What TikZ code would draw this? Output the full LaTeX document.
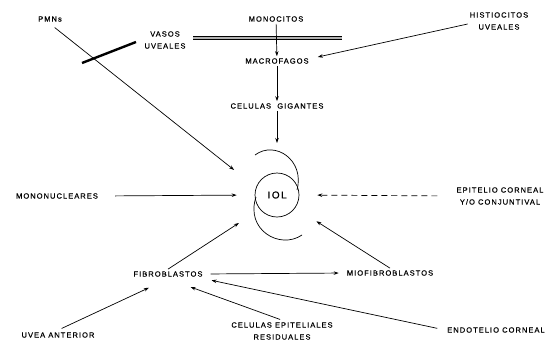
\documentclass[tikz,border=0pt]{standalone}
\usepackage{fontspec}
\usepackage{tikz}
\usetikzlibrary{arrows.meta}
\newfontfamily\lblfont[LetterSpace=14, FakeBold=0.5]{Liberation Sans}
\tikzstyle{lbl} = [font=\lblfont\fontsize{7.5}{12}\selectfont, inner sep=2pt, align=center]
\tikzstyle{flow} = [-{Stealth[length=5pt,width=3.5pt]}, line width=.7pt]
\tikzstyle{vessel} = [line width=.8pt, double=gray!60, double distance=1.8pt]
\begin{document}
\begin{tikzpicture}[x=1pt,y=-1pt]
    \useasboundingbox (0,0) rectangle (554,343);
    \node[lbl] (pmn) at (50,19) {PMNs};
    \node[lbl] (vasos) at (165,40) {VASOS\\UVEALES};
    \node[lbl] (mono) at (276,19) {MONOCITOS};
    \node[lbl] (macro) at (277,61) {MACROFAGOS};
    \node[lbl] (gig) at (277,106) {CELULAS\ \ GIGANTES};
    \node[lbl] (hist) at (499,21) {HISTIOCITOS\\UVEALES};
    \node[lbl] (mononuc) at (57,196) {MONONUCLEARES};
    \node[draw, circle, minimum size=44pt, inner sep=0pt, line width=.7pt,
          font=\lblfont\fontsize{10}{12}\selectfont] (iol) at (277,195) {I\,OL};
    \node[lbl] (epi) at (500,196) {EPITELIO CORNEAL\\Y/O CONJUNTIVAL};
    \node[lbl] (fibro) at (168,274) {FIBROBLASTOS};
    \node[lbl] (miofib) at (390,273) {MIOFIBROBLASTOS};
    \node[lbl] (uvea) at (58,335) {UVEA ANTERIOR};
    \node[lbl] (celep) at (282,331) {CELULAS EPITELIALES\\RESIDUALES};
    \node[lbl] (endo) at (496,330) {ENDOTELIO CORNEAL};
    \coordinate (vesa) at (193,38);
    \coordinate (vesb) at (342,38);
    \coordinate (bara) at (82,63);
    \coordinate (barb) at (136,42);
    \coordinate (haptop) at (277,143);
    % vessels
    \draw[vessel] (vesa) -- (vesb);
    \draw[line width=2.4pt] (bara) -- (barb);
    % haptics
    \begin{scope}[shift={(iol.center)}, line width=.7pt]
        \draw (-22,-40) .. controls (-2,-55) and (28,-35) .. (20,-5);
        \draw (-21,2) .. controls (-32,35) and (3,55) .. (25,40);
    \end{scope}
    \draw[flow] (mono) -- (macro);
    \draw[flow] (macro) -- (gig);
    \draw[flow] (gig) -- (haptop);
    \draw[flow] ([yshift=-3pt]hist.west) -- ([xshift=7pt,yshift=4pt]macro.east);
    \draw[flow, shorten <=6pt, shorten >=28pt] (pmn.south) -- (iol.160);
    \draw[flow, shorten <=15pt, shorten >=18pt] (mononuc.east) -- (iol.west);
    \draw[flow, dash pattern=on 6pt off 4pt, shorten <=17pt, shorten >=18pt] (epi.west) -- (iol.east);
    \draw[flow, shorten >=25pt] (fibro.north) -- (iol.220);
    \draw[flow, shorten >=25pt] (miofib.north) -- (iol.-35);
    \draw[flow, shorten <=6pt, shorten >=6pt] (fibro.east) -- (miofib.west);
    \draw[flow, shorten <=4pt, shorten >=21pt] (uvea.north) -- (fibro.south);
    \draw[flow, shorten <=2pt, shorten >=24pt] (celep.north) -- (fibro.south);
    \draw[flow, shorten <=8pt, shorten >=7pt] (endo.west) -- (fibro.south east);
\end{tikzpicture}
\end{document}
